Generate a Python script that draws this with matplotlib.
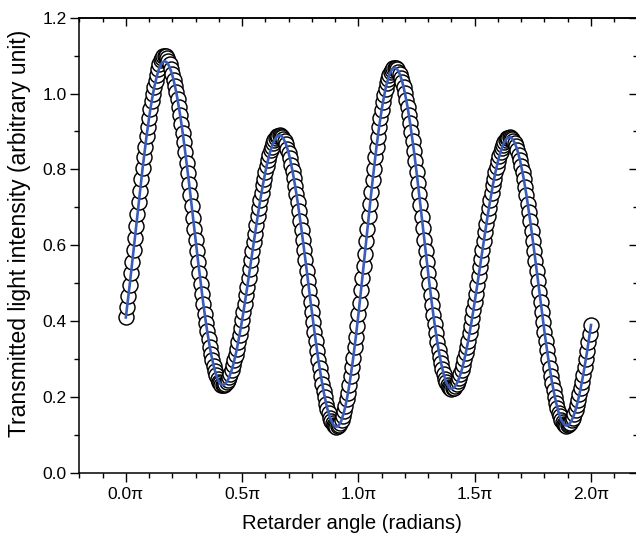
import numpy as np
import matplotlib
matplotlib.use("Agg")
import matplotlib.pyplot as plt
from matplotlib.ticker import MultipleLocator, FuncFormatter

plt.rcParams['font.family'] = ['Liberation Sans', 'DejaVu Sans']

# retarder angle, 1 degree steps
angle_deg = np.arange(0, 361, 1)

# fitted curve
fit = [
    0.410, 0.438, 0.466, 0.496, 0.526, 0.557, 0.588, 0.619, 0.651, 0.682,
    0.713, 0.744, 0.774, 0.804, 0.832, 0.860, 0.887, 0.912, 0.936, 0.959,
    0.980, 0.999, 1.017, 1.032, 1.046, 1.058, 1.068, 1.075, 1.081, 1.084,
    1.085, 1.084, 1.081, 1.076, 1.068, 1.059, 1.048, 1.035, 1.020, 1.004,
    0.985, 0.965, 0.944, 0.921, 0.897, 0.872, 0.845, 0.818, 0.790, 0.762,
    0.733, 0.703, 0.673, 0.644, 0.614, 0.584, 0.555, 0.527, 0.499, 0.472,
    0.445, 0.420, 0.396, 0.373, 0.352, 0.332, 0.313, 0.297, 0.282, 0.269,
    0.258, 0.249, 0.241, 0.236, 0.233, 0.232, 0.233, 0.235, 0.240, 0.245,
    0.253, 0.262, 0.272, 0.284, 0.298, 0.312, 0.328, 0.346, 0.364, 0.383,
    0.403, 0.424, 0.446, 0.468, 0.491, 0.514, 0.538, 0.561, 0.584, 0.608,
    0.631, 0.654, 0.676, 0.698, 0.719, 0.739, 0.758, 0.776, 0.794, 0.810,
    0.824, 0.838, 0.850, 0.860, 0.869, 0.877, 0.882, 0.887, 0.889, 0.890,
    0.889, 0.886, 0.881, 0.874, 0.866, 0.855, 0.843, 0.829, 0.813, 0.796,
    0.777, 0.757, 0.736, 0.714, 0.690, 0.665, 0.640, 0.614, 0.588, 0.561,
    0.533, 0.506, 0.479, 0.451, 0.424, 0.398, 0.372, 0.347, 0.322, 0.298,
    0.276, 0.255, 0.235, 0.216, 0.199, 0.183, 0.169, 0.157, 0.146, 0.138,
    0.131, 0.126, 0.123, 0.122, 0.123, 0.127, 0.132, 0.140, 0.151, 0.163,
    0.177, 0.194, 0.212, 0.233, 0.255, 0.279, 0.304, 0.331, 0.359, 0.388,
    0.418, 0.449, 0.481, 0.513, 0.546, 0.578, 0.612, 0.644, 0.677, 0.709,
    0.741, 0.772, 0.802, 0.832, 0.860, 0.886, 0.912, 0.935, 0.957, 0.978,
    0.996, 1.013, 1.027, 1.039, 1.050, 1.058, 1.063, 1.067, 1.068, 1.067,
    1.064, 1.058, 1.051, 1.041, 1.030, 1.016, 1.001, 0.983, 0.965, 0.944,
    0.922, 0.898, 0.874, 0.848, 0.821, 0.793, 0.764, 0.735, 0.705, 0.675,
    0.645, 0.615, 0.585, 0.555, 0.526, 0.497, 0.469, 0.442, 0.416, 0.392,
    0.368, 0.346, 0.325, 0.307, 0.289, 0.274, 0.260, 0.249, 0.239, 0.232,
    0.226, 0.223, 0.222, 0.223, 0.225, 0.229, 0.235, 0.242, 0.251, 0.261,
    0.272, 0.285, 0.300, 0.315, 0.332, 0.349, 0.368, 0.388, 0.408, 0.429,
    0.451, 0.473, 0.496, 0.519, 0.542, 0.565, 0.588, 0.611, 0.634, 0.656,
    0.678, 0.699, 0.719, 0.739, 0.758, 0.775, 0.792, 0.807, 0.822, 0.835,
    0.846, 0.856, 0.865, 0.872, 0.878, 0.882, 0.884, 0.885, 0.884, 0.881,
    0.876, 0.870, 0.861, 0.851, 0.838, 0.825, 0.809, 0.792, 0.774, 0.754,
    0.733, 0.710, 0.687, 0.663, 0.638, 0.612, 0.586, 0.559, 0.532, 0.505,
    0.478, 0.451, 0.424, 0.398, 0.372, 0.347, 0.323, 0.300, 0.277, 0.256,
    0.236, 0.218, 0.201, 0.185, 0.172, 0.159, 0.149, 0.140, 0.134, 0.129,
    0.126, 0.125, 0.126, 0.128, 0.133, 0.139, 0.146, 0.155, 0.166, 0.178,
    0.192, 0.207, 0.223, 0.241, 0.259, 0.279, 0.300, 0.321, 0.344, 0.366, 0.390,
]

# measured points sit a bit above the fit around the first maximum
peak1_start = 24
measured_peak1 = [1.050, 1.065, 1.078, 1.088, 1.095, 1.099, 1.100,
                  1.098, 1.094, 1.087, 1.077, 1.066, 1.052]
measured = list(fit)
measured[peak1_start:peak1_start + len(measured_peak1)] = measured_peak1

x = np.deg2rad(angle_deg)

fig = plt.figure(figsize=(6.36, 5.37), dpi=100)
ax = fig.add_axes([0.1247, 0.1192, 0.8777, 0.8479])

ax.plot(x, measured, linestyle="none", marker="o", markersize=10.8,
        markerfacecolor="white", markeredgecolor="black", markeredgewidth=1.05,
        zorder=2)
ax.plot(x, fit, color="#3b5cb8", linewidth=1.9, zorder=3)

ax.set_xlim(-0.2 * np.pi, 2.2 * np.pi)
ax.set_ylim(0.0, 1.2)

ax.xaxis.set_major_locator(MultipleLocator(0.5 * np.pi))
ax.xaxis.set_minor_locator(MultipleLocator(0.1 * np.pi))
ax.xaxis.set_major_formatter(FuncFormatter(lambda v, p: "%.1fπ" % (v / np.pi)))
ax.yaxis.set_major_locator(MultipleLocator(0.2))
ax.yaxis.set_minor_locator(MultipleLocator(0.1))
ax.yaxis.set_major_formatter(FuncFormatter(lambda v, p: "%.1f" % v))

ax.tick_params(which="both", direction="out", width=1.0, labelsize=12.5,
               top=False, right=False)
ax.tick_params(which="major", length=6.3)
ax.tick_params(which="minor", length=3.8)
ax.tick_params(axis="y", pad=3)
for s in ax.spines.values():
    s.set_linewidth(1.1)

# mirrored ticks pointing inward on top and right
top = ax.secondary_xaxis("top")
top.xaxis.set_major_locator(MultipleLocator(0.5 * np.pi))
top.xaxis.set_minor_locator(MultipleLocator(0.1 * np.pi))
top.tick_params(which="both", direction="in", width=1.0, labeltop=False)
top.tick_params(which="major", length=6)
top.tick_params(which="minor", length=3)
top.spines["top"].set_linewidth(1.1)

right = ax.secondary_yaxis("right")
right.yaxis.set_major_locator(MultipleLocator(0.2))
right.yaxis.set_minor_locator(MultipleLocator(0.1))
right.tick_params(which="both", direction="in", width=1.0, labelright=False)
right.tick_params(which="major", length=6.5)
right.tick_params(which="minor", length=3.5)

ax.set_xlabel("Retarder angle (radians)", fontsize=14.6)
ax.set_ylabel("Transmitted light intensity (arbitrary unit)", fontsize=16.5)
ax.xaxis.set_label_coords(0.489, -0.091)
ax.yaxis.set_label_coords(-0.086, 0.527)

fig.savefig("out.png", dpi=100)
